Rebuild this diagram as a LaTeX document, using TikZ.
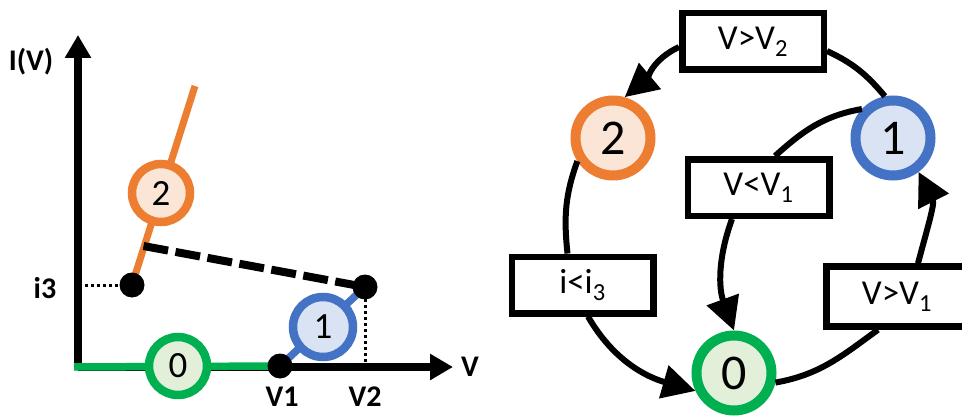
\documentclass[tikz,border=0pt]{standalone}
\usepackage{fontspec}
\setmainfont{Carlito}
\usetikzlibrary{arrows.meta}
\definecolor{cgreen}{HTML}{00B050}
\definecolor{cgreenf}{HTML}{E2F0D9}
\definecolor{cblue}{HTML}{4472C4}
\definecolor{cbluef}{HTML}{DAE3F3}
\definecolor{corange}{HTML}{ED7D31}
\definecolor{corangef}{HTML}{FBE5D6}
\begin{document}
\begin{tikzpicture}[x=1pt,y=1pt,
  smallstate/.style={circle, draw, line width=8.5pt, minimum size=58pt, inner sep=0pt, font=\fontsize{37}{37}\selectfont},
  bigstate/.style={circle, draw, line width=10pt, minimum size=75pt, inner sep=0pt, font=\fontsize{50}{50}\selectfont},
  cond/.style={draw, line width=6.5pt, fill=white, minimum width=141.5pt, minimum height=56.5pt, inner sep=0pt, font=\fontsize{35}{35}\selectfont},
  dot/.style={circle, fill=black, minimum size=25pt, inner sep=0pt},
  axlabel/.style={font=\fontsize{30}{30}\selectfont\bfseries, inner sep=0pt},
  plainline/.style={line width=6pt},
  trans/.style={line width=6pt, -{Triangle[length=33pt,width=33pt]}},
  axis/.style={line width=8.5pt, -{Triangle[length=23pt,width=25pt]}},
  dotline/.style={line width=3pt, dash pattern=on 3pt off 3pt},
]
\useasboundingbox (0,0) rectangle (962,416);

% ---------- left panel ----------
\coordinate (ybot) at (78,53);
\coordinate (ytip) at (78,381);
\coordinate (xorg) at (78,49);
\coordinate (xtip) at (453,49);
\coordinate (gstart) at (74,49);
\coordinate (pV1) at (280,50);
\coordinate (pV2) at (365,129);
\coordinate (pI3) at (132,131);
\coordinate (otop) at (195,330);
\coordinate (dstart) at (143.5,170);
\coordinate (v2foot) at (365,49);
\coordinate (i3foot) at (85,131);

\draw[axis] (ybot) -- (ytip);
\draw[axis] (xorg) -- (xtip);
\draw[cgreen, line width=7.5pt] (gstart) -- (pV1);
\draw[cblue, line width=7.5pt] (pV1) -- (pV2);
\draw[corange, line width=7pt] (pI3) -- (otop);
\draw[line width=8pt, dash pattern=on 25pt off 7.5pt] (dstart) -- (pV2);
\draw[dotline] (pV2) -- (v2foot);
\draw[dotline] (i3foot) -- (pI3);

\node[smallstate, draw=cgreen, fill=cgreenf] (l0) at (178,50) {0};
\node[smallstate, draw=cblue, fill=cbluef, minimum size=60pt] (l1) at (323,89) {1};
\node[smallstate, draw=corange, fill=corangef] (l2) at (161,223) {2};
\node[dot] (dV1) at (pV1) {};
\node[dot] (dV2) at (pV2) {};
\node[dot] (dI3) at (pI3) {};

\node[axlabel] (lI) at (31,354) {I(V)};
\node[axlabel] (li3) at (45,128) {i3};
\node[axlabel] (lV1) at (282,19) {V1};
\node[axlabel] (lV2) at (365,19) {V2};
\node[axlabel] (lV) at (470,49) {V};

% ---------- right panel ----------
\node[bigstate, draw=corange, fill=corangef] (n2) at (613,278) {2};
\node[bigstate, draw=cblue, fill=cbluef] (n1) at (893,278) {1};
\node[bigstate, draw=cgreen, fill=cgreenf] (n0) at (734,43) {0};

\node[cond] (b2) at (753,374.5) {V>V\textsubscript{2}};
\node[cond] (b1l) at (758.5,228.5) {V<V\textsubscript{1}};
\node[cond] (b3) at (582.5,131) {i<i\textsubscript{3}};
\node[cond, minimum height=60pt] (b1) at (897,119.5) {V>V\textsubscript{1}};

\draw[plainline] (n1.101) to[out=130, in=-25] ([yshift=-9.5pt]b2.east);
\draw[trans] ([yshift=-5.5pt]b2.west) to[out=205, in=40] (n2.74);
\draw[plainline] (n2.213) to[out=250, in=96] ([xshift=-15pt]b3.north);
\draw[trans] ([xshift=5.5pt]b3.south) to[out=-60, in=164] (n0.205);
\draw[plainline] (n0.-13) to[out=10, in=216] ([xshift=-19pt]b1.south);
\draw[trans] ([xshift=21pt]b1.north) to[out=75, in=-63] (n1.-53);
\draw[plainline] (n1.137) to[out=190, in=42] ([xshift=16.5pt]b1l.north);
\draw[trans] ([xshift=-26.5pt]b1l.south) to[out=250, in=110] (n0.90);
\end{tikzpicture}
\end{document}
